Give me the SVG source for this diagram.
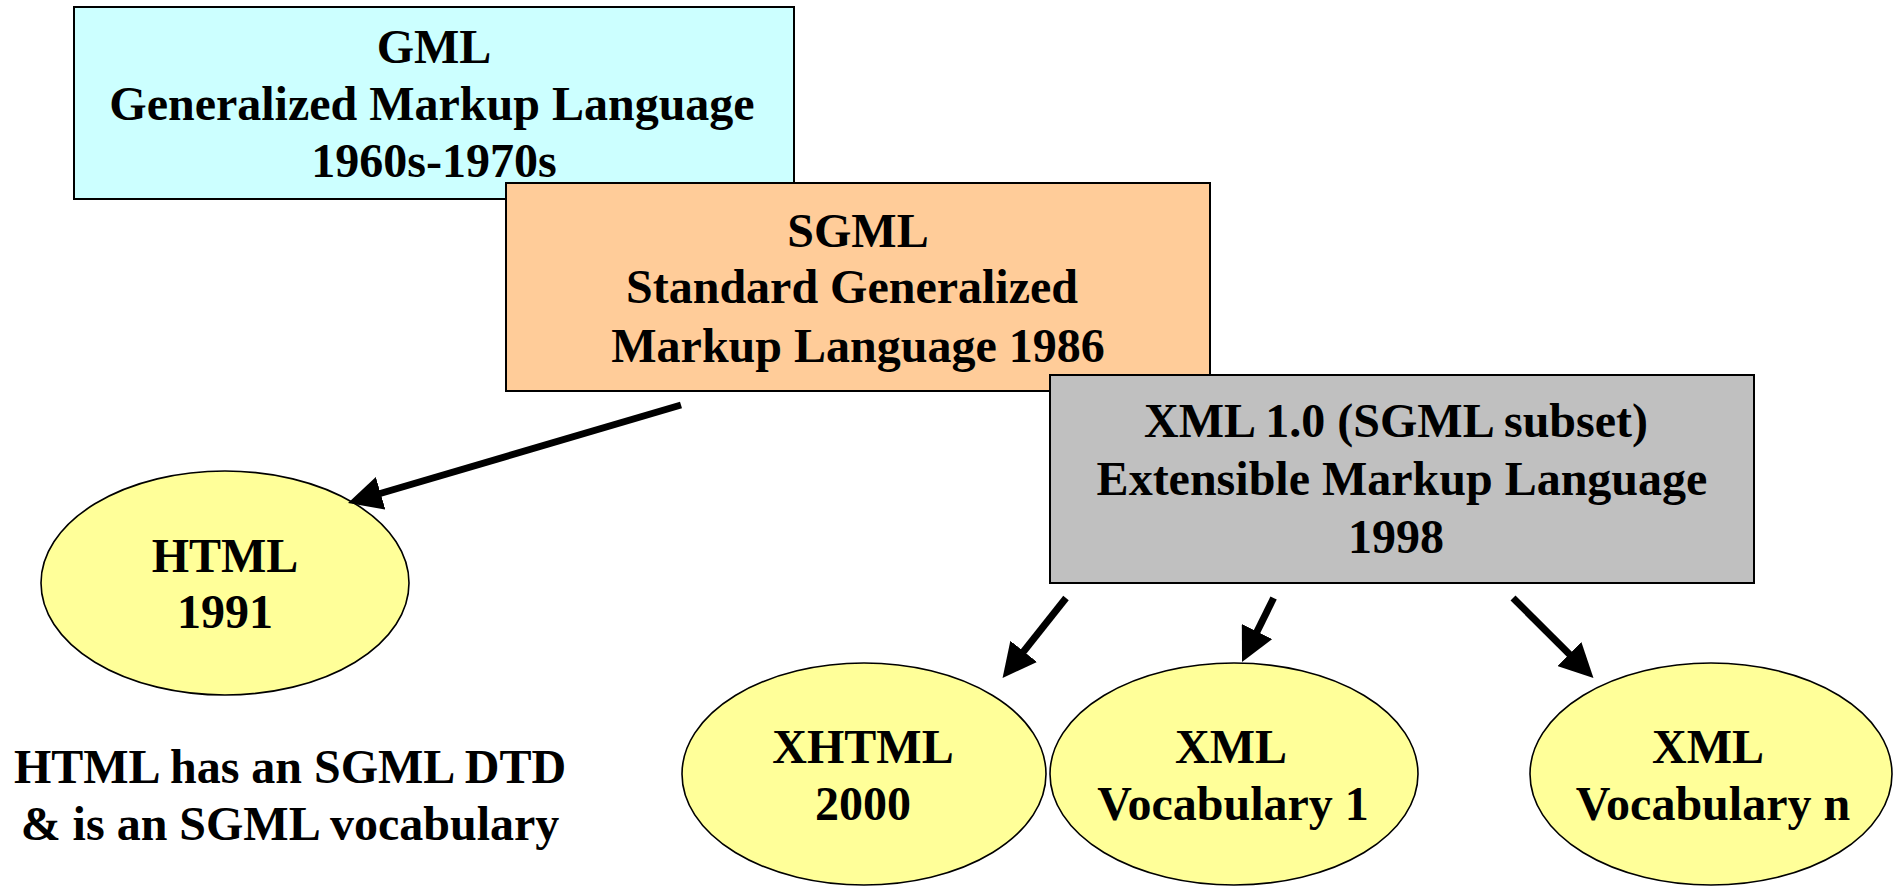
<svg xmlns="http://www.w3.org/2000/svg" width="1893" height="887" viewBox="0 0 1893 887">
<style>
  .t { font-family: "Liberation Serif", "Times New Roman", serif; font-weight: bold; font-size: 48px; fill: #000; text-anchor: middle; }
  .box { stroke: #000; stroke-width: 2; }
  .ell { fill: #FFFF99; stroke: #000; stroke-width: 1.6; }
  .conn { stroke: #000; stroke-width: 7; fill: none; marker-end: url(#ah); }
</style>
<defs>
  <marker id="ah" markerUnits="userSpaceOnUse" markerWidth="34" markerHeight="34" refX="4" refY="17" orient="auto">
    <path d="M0,0 L34,17 L0,34 z" fill="#000"/>
  </marker>
</defs>
<rect width="1893" height="887" fill="#fff"/>

<g id="gml">
  <rect class="box" x="74" y="7" width="720" height="192" fill="#CCFFFF"/>
  <text class="t" x="434" y="63">GML</text>
  <text class="t" x="432" y="120">Generalized Markup Language</text>
  <text class="t" x="434" y="177">1960s-1970s</text>
</g>

<g id="sgml">
  <rect class="box" x="506" y="183" width="704" height="208" fill="#FFCC99"/>
  <text class="t" x="858" y="247">SGML</text>
  <text class="t" x="852" y="303">Standard Generalized</text>
  <text class="t" x="858" y="362">Markup Language 1986</text>
</g>

<g id="xml">
  <rect class="box" x="1050" y="375" width="704" height="208" fill="#C0C0C0"/>
  <text class="t" x="1396" y="437">XML 1.0 (SGML subset)</text>
  <text class="t" x="1402" y="495">Extensible Markup Language</text>
  <text class="t" x="1396" y="553">1998</text>
</g>

<g id="html">
  <ellipse class="ell" cx="225" cy="583" rx="184" ry="112"/>
  <text class="t" x="225" y="572">HTML</text>
  <text class="t" x="225" y="628">1991</text>
</g>

<g id="note">
  <text class="t" x="290" y="783">HTML has an SGML DTD</text>
  <text class="t" x="290" y="840">&amp; is an SGML vocabulary</text>
</g>

<g id="xhtml">
  <ellipse class="ell" cx="864" cy="774" rx="182" ry="111"/>
  <text class="t" x="863" y="763">XHTML</text>
  <text class="t" x="863" y="820">2000</text>
</g>

<g id="vocab1">
  <ellipse class="ell" cx="1234" cy="774" rx="184" ry="111"/>
  <text class="t" x="1231" y="763">XML</text>
  <text class="t" x="1233" y="820">Vocabulary 1</text>
</g>

<g id="vocabn">
  <ellipse class="ell" cx="1711" cy="774" rx="181" ry="111"/>
  <text class="t" x="1708" y="763">XML</text>
  <text class="t" x="1713" y="820">Vocabulary n</text>
</g>

<g id="connectors">
  <line class="conn" x1="681" y1="405" x2="376.8" y2="494.5"/>
  <line class="conn" x1="1066" y1="598" x2="1021.2" y2="654.5"/>
  <line class="conn" x1="1273.6" y1="598" x2="1255.3" y2="635.1"/>
  <line class="conn" x1="1513" y1="598" x2="1572.2" y2="656.9"/>
</g>
</svg>
